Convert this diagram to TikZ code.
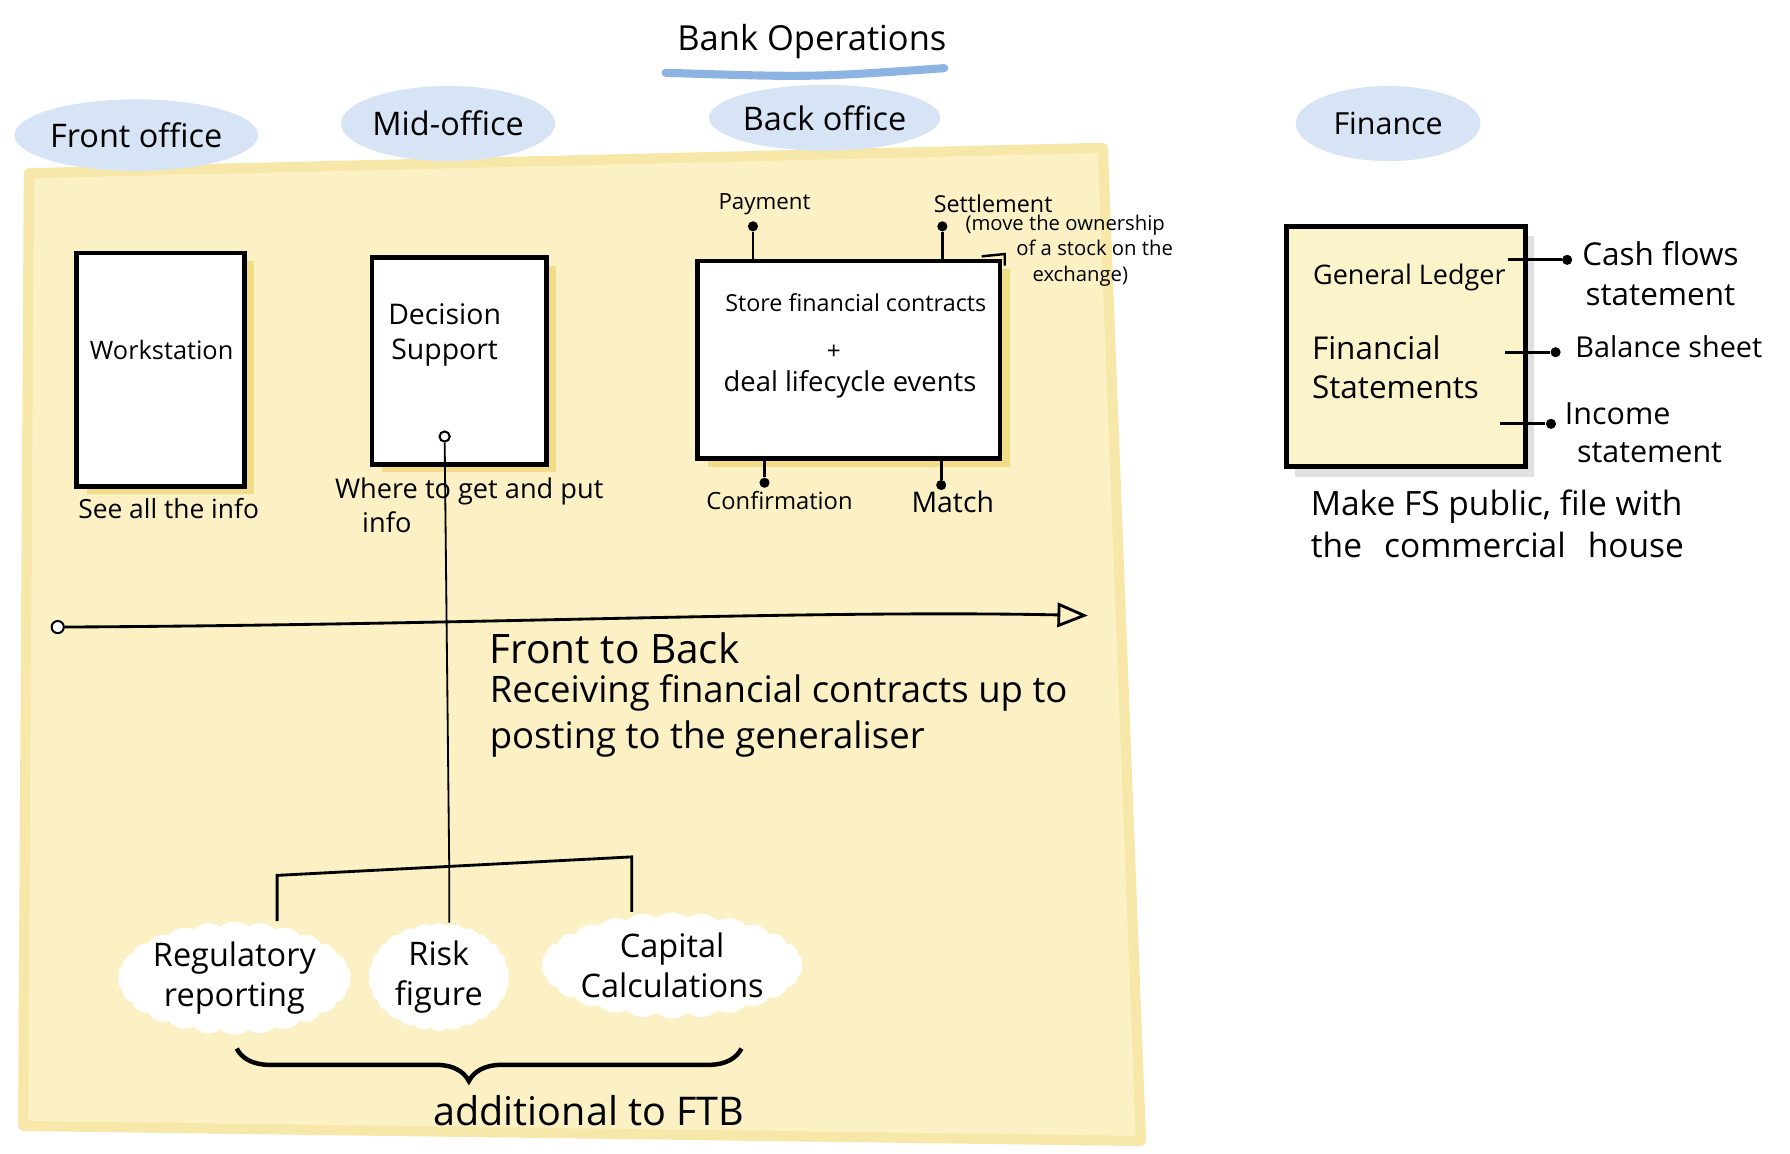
\documentclass[tikz,border=0pt]{standalone}
\usepackage{fontspec}
\setmainfont{Open Sans}
\usetikzlibrary{arrows.meta,shapes.geometric,shapes.symbols,decorations.pathreplacing,shadows,calc}
\definecolor{panel}{HTML}{FBF1C4}
\definecolor{paneledge}{HTML}{F7E7A8}
\definecolor{shadowy}{HTML}{F2DC88}
\definecolor{blob}{HTML}{D6E4F6}
\definecolor{uline}{HTML}{8DB3E2}
\definecolor{finfill}{HTML}{FBF3CA}
\tikzset{
  fs/.style={font=\fontsize{#1}{\dimexpr#1pt*5/4\relax}\selectfont},
  txt/.style={inner sep=1pt, align=center},
  sysbox/.style={draw=black, line width=2.3pt, fill=white, inner sep=0pt,
    drop shadow={shadow xshift=5pt, shadow yshift=-4pt, fill=shadowy, opacity=1}},
  finbox/.style={draw=black, line width=2.3pt, fill=finfill, inner sep=0pt,
    drop shadow={shadow xshift=4pt, shadow yshift=-5pt, fill=black!12, opacity=1}},
  office/.style={ellipse, fill=blob, inner sep=0pt, fs=16},
  dotend/.style={circle, fill=black, inner sep=0pt, minimum size=5pt},
  opendot/.style={circle, draw=black, fill=white, line width=1pt, inner sep=0pt, minimum size=6pt},
  wire/.style={line width=1.4pt},
  thinwire/.style={line width=0.9pt},
  puff/.style={cloud, cloud puffs=26, cloud puff arc=80, cloud ignores aspect, fill=white, inner sep=0pt, align=center, fs=16},
}
\begin{document}
\begin{tikzpicture}[x=0.02cm,y=-0.02cm]
\useasboundingbox (0,0) rectangle (1550,999);

% yellow panel
\filldraw[fill=panel, draw=paneledge, line width=5pt, line join=round]
  (25,150) -- (955,128) -- (988,988) -- (20,975) -- cycle;

% title
\node[txt, fs=17] (title) at (703,36) {Bank Operations};
\draw[uline, line width=4pt, line cap=round]
  ($(title.south west)+(-8,10)$) .. controls ($(title.south)+(0,14)$) .. ($(title.south east)+(-4,6)$);

% office labels
\node[office, minimum width=185*0.02cm, minimum height=62*0.02cm] (front) at (118,117) {Front office};
\node[office, minimum width=170*0.02cm, minimum height=65*0.02cm] (mid) at (388,107) {Mid-office};
\node[office, minimum width=160*0.02cm, minimum height=57*0.02cm] (back) at (714,102) {Back office};
\node[office, minimum width=160*0.02cm, minimum height=65*0.02cm, fs=15] (finance) at (1202,107) {Finance};

% front office box
\node[sysbox, minimum width=145*0.02cm, minimum height=202*0.02cm] (ws) at (139,320) {};
\node[txt, fs=12.5] (wst) at (140,303) {Workstation};
\node[txt, fs=13] (wsnote) at (146,440) {See all the info};

% mid office box
\node[sysbox, minimum width=151*0.02cm, minimum height=179*0.02cm] (ds) at (397.5,312.5) {};
\node[txt, fs=14] (dst) at (385,290) {Decision\\Support};
\node[opendot, minimum size=5pt] (dsdot) at (385,378) {};
\node[txt, fs=13.4, align=left, anchor=north west] (dsnote) at (288,412) {Where to get and put\\\hspace*{1em}info};

% back office box
\node[sysbox, minimum width=262*0.02cm, minimum height=171*0.02cm] (bo) at (735,311.5) {};
\node[txt, fs=11.5] (bot1) at (741,262) {Store financial contracts};
\node[txt, fs=12] (bot2) at (722,305) {+};
\node[txt, fs=13.5] (bot3) at (736,333) {deal lifecycle events};
\draw[line width=1.2pt] ($(bo.north east)+(-18,-2)$) -- ($(bo.north east)+(2,-4)$) -- ($(bo.north east)+(2,6)$);

\node[dotend] (paydot) at (652,196) {};
\node[txt, fs=11, anchor=south] (pay) at (662,188) {Payment};
\draw[wire] (paydot) -- (paydot |- bo.north);

\node[dotend] (setdot) at (816,196) {};
\node[txt, fs=11.5, anchor=south] (set) at (860,186) {Settlement};
\node[txt, fs=10, align=left, anchor=north west] (setnote) at (834,184)
  {(move the ownership\\\hspace*{2.5em}of a stock on the\\\hspace*{3.3em}exchange)};
\draw[wire] (setdot) -- (setdot |- bo.north);

\node[dotend] (confdot) at (662,418) {};
\node[txt, fs=11.7, anchor=north] (conf) at (675,423) {Confirmation};
\draw[wire] (confdot) -- (confdot |- bo.south);

\node[dotend] (matchdot) at (815,420) {};
\node[txt, fs=14, anchor=north] (match) at (825,423) {Match};
\draw[wire] (matchdot) -- (matchdot |- bo.south);

% front to back arrow
\node[opendot] (fstart) at (50,543) {};
\coordinate (fend) at (942,533);
\draw[wire, -{Triangle[open, length=15pt, width=12pt, line width=1.4pt]}]
  (fstart) .. controls (420,541) and (700,528) .. (fend);
\node[txt, fs=20, anchor=west] (ftb) at (422,561) {Front to Back};
\node[txt, fs=18, align=left, anchor=north west] (ftbnote) at (422,582)
  {Receiving financial contracts up to\\posting to the generaliser};

% bottom clouds
\node[puff, minimum width=180*0.02cm, minimum height=98*0.02cm] (reg) at (203,847) {Regulatory\\reporting};
\node[puff, minimum width=122*0.02cm, minimum height=92*0.02cm] (risk) at (380,846) {Risk\\figure};
\node[puff, minimum width=195*0.02cm, minimum height=92*0.02cm] (cap) at (582,836) {Capital\\Calculations};

\coordinate (barL) at (240,758);
\coordinate (barR) at (547,742);
\coordinate (junc) at (389,751);
\draw[thinwire] (dsdot) -- (junc) -- (risk.north -| junc);
\draw[wire] (reg.north -| barL) -- (barL) -- (barR) -- (cap.north -| barR);

% brace
\draw[line width=2.2pt, decorate, decoration={brace, mirror, amplitude=16pt, aspect=0.46}]
  (205,908) -- (642,908);
\node[txt, fs=19.5] (addl) at (510,962) {additional to FTB};

% finance box
\node[finbox, minimum width=207*0.02cm, minimum height=208*0.02cm] (fin) at (1217.5,300) {};
\node[txt, fs=13.3, anchor=west] (gl) at (1135,240) {General Ledger};
\node[txt, fs=15.5, align=left, anchor=west] (fst) at (1134,318) {Financial\\Statements};

\node[dotend] (cfdot) at (1357,225) {};
\node[txt, fs=15.5, anchor=west] (cf) at (1368,237) {Cash flows\\statement};
\draw[wire] (cfdot) -- ($(cfdot -| fin.east)+(-17,0)$);

\node[dotend] (bsdot) at (1347,305) {};
\node[txt, fs=14.2, anchor=west] (bs) at (1362,300) {Balance sheet};
\draw[wire] (bsdot) -- ($(bsdot -| fin.east)+(-20,0)$);

\node[dotend] (isdot) at (1343,367) {};
\node[txt, fs=15, align=left, anchor=west] (is) at (1353,375) {Income\\\hspace*{0.4em}statement};
\draw[wire] (isdot) -- ($(isdot -| fin.east)+(-24,0)$);

\node[txt, fs=16.5, align=left, anchor=north west] (fsnote) at (1133,422)
  {Make FS public, file with\\the \hspace{0.4em}commercial \hspace{0.4em}house};
\end{tikzpicture}
\end{document}
